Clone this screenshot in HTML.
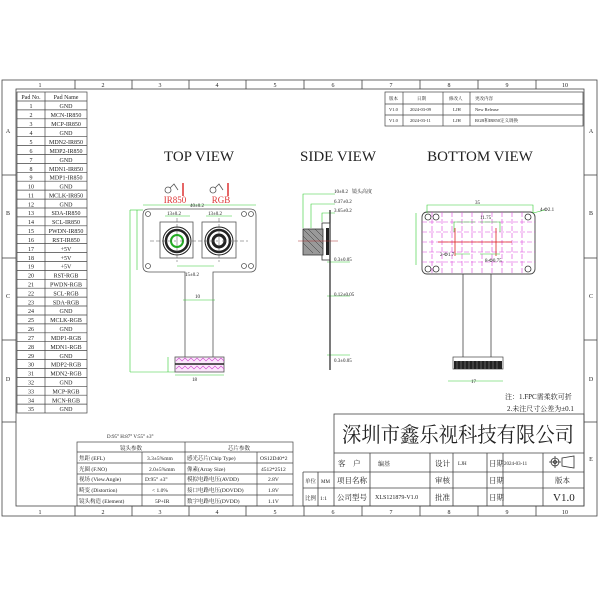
<!DOCTYPE html>
<html><head><meta charset="utf-8"><style>
html,body{margin:0;padding:0;background:#fff;}
svg{display:block;}
text{font-family:"Liberation Serif","Noto Serif CJK SC","Noto Sans CJK SC",serif;fill:#222;}
.s{font-size:6px;}
.g{fill:#3c3;font-size:5px;}
</style></head><body>
<svg width="600" height="600" viewBox="0 0 600 600" xmlns="http://www.w3.org/2000/svg">
<g fill="none" stroke="#444" stroke-width="0.8">
<rect x="2" y="80" width="595" height="436"/>
<rect x="16" y="89" width="568" height="417"/>
<line x1="75" y1="80" x2="75" y2="89"/><line x1="132" y1="80" x2="132" y2="89"/><line x1="189" y1="80" x2="189" y2="89"/><line x1="246" y1="80" x2="246" y2="89"/><line x1="304" y1="80" x2="304" y2="89"/><line x1="362" y1="80" x2="362" y2="89"/><line x1="420" y1="80" x2="420" y2="89"/><line x1="478" y1="80" x2="478" y2="89"/><line x1="536" y1="80" x2="536" y2="89"/>
<line x1="75" y1="506" x2="75" y2="516"/><line x1="132" y1="506" x2="132" y2="516"/><line x1="189" y1="506" x2="189" y2="516"/><line x1="246" y1="506" x2="246" y2="516"/><line x1="304" y1="506" x2="304" y2="516"/><line x1="362" y1="506" x2="362" y2="516"/><line x1="420" y1="506" x2="420" y2="516"/><line x1="478" y1="506" x2="478" y2="516"/><line x1="536" y1="506" x2="536" y2="516"/>
<line x1="2" y1="175" x2="16" y2="175"/><line x1="2" y1="258" x2="16" y2="258"/><line x1="2" y1="340" x2="16" y2="340"/><line x1="2" y1="422" x2="16" y2="422"/>
<line x1="584" y1="175" x2="597" y2="175"/><line x1="584" y1="258" x2="597" y2="258"/><line x1="584" y1="340" x2="597" y2="340"/><line x1="584" y1="422" x2="597" y2="422"/>
</g>
<g font-size="6" text-anchor="middle">
<text x="40" y="87">1</text><text x="103" y="87">2</text><text x="160" y="87">3</text><text x="217" y="87">4</text><text x="275" y="87">5</text><text x="333" y="87">6</text><text x="391" y="87">7</text><text x="449" y="87">8</text><text x="507" y="87">9</text><text x="565" y="87">10</text>
<text x="40" y="514">1</text><text x="103" y="514">2</text><text x="160" y="514">3</text><text x="217" y="514">4</text><text x="275" y="514">5</text><text x="333" y="514">6</text><text x="391" y="514">7</text><text x="449" y="514">8</text><text x="507" y="514">9</text><text x="565" y="514">10</text>
<text x="8" y="133">A</text><text x="8" y="215">B</text><text x="8" y="298">C</text><text x="8" y="381">D</text>
<text x="591" y="133">A</text><text x="591" y="215">B</text><text x="591" y="298">C</text><text x="591" y="381">D</text><text x="591" y="461">E</text>
</g>
<!-- pad table -->
<g fill="none" stroke="#444" stroke-width="0.7">
<rect x="17" y="92" width="70" height="321"/><line x1="45" y1="92" x2="45" y2="413"/>
<line x1="17" y1="101" x2="87" y2="101"/>
<path d="M17 109.9H87M17 118.8H87M17 127.7H87M17 136.7H87M17 145.6H87M17 154.5H87M17 163.4H87M17 172.3H87M17 181.2H87M17 190.1H87M17 199.1H87M17 208H87M17 216.9H87M17 225.8H87M17 234.7H87M17 243.6H87M17 252.5H87M17 261.5H87M17 270.4H87M17 279.3H87M17 288.2H87M17 297.1H87M17 306H87M17 315H87M17 323.9H87M17 332.8H87M17 341.7H87M17 350.6H87M17 359.5H87M17 368.4H87M17 377.4H87M17 386.3H87M17 395.2H87M17 404.1H87"/>
</g>
<g class="s" text-anchor="middle">
<text x="31" y="99">Pad No.</text><text x="66" y="99">Pad Name</text>
<text x="31" y="108">1</text><text x="66" y="108">GND</text>
<text x="31" y="117">2</text><text x="66" y="117">MCN-IR850</text>
<text x="31" y="126">3</text><text x="66" y="126">MCP-IR850</text>
<text x="31" y="135">4</text><text x="66" y="135">GND</text>
<text x="31" y="144">5</text><text x="66" y="144">MDN2-IR850</text>
<text x="31" y="153">6</text><text x="66" y="153">MDP2-IR850</text>
<text x="31" y="162">7</text><text x="66" y="162">GND</text>
<text x="31" y="171">8</text><text x="66" y="171">MDN1-IR850</text>
<text x="31" y="179.5">9</text><text x="66" y="179.5">MDP1-IR850</text>
<text x="31" y="188.5">10</text><text x="66" y="188.5">GND</text>
<text x="31" y="197.5">11</text><text x="66" y="197.5">MCLK-IR850</text>
<text x="31" y="206.5">12</text><text x="66" y="206.5">GND</text>
<text x="31" y="215">13</text><text x="66" y="215">SDA-IR850</text>
<text x="31" y="224">14</text><text x="66" y="224">SCL-IR850</text>
<text x="31" y="233">15</text><text x="66" y="233">PWDN-IR850</text>
<text x="31" y="242">16</text><text x="66" y="242">RST-IR850</text>
<text x="31" y="251">17</text><text x="66" y="251">+5V</text>
<text x="31" y="260">18</text><text x="66" y="260">+5V</text>
<text x="31" y="268.5">19</text><text x="66" y="268.5">+5V</text>
<text x="31" y="277.5">20</text><text x="66" y="277.5">RST-RGB</text>
<text x="31" y="286.5">21</text><text x="66" y="286.5">PWDN-RGB</text>
<text x="31" y="295.5">22</text><text x="66" y="295.5">SCL-RGB</text>
<text x="31" y="304.5">23</text><text x="66" y="304.5">SDA-RGB</text>
<text x="31" y="313">24</text><text x="66" y="313">GND</text>
<text x="31" y="322">25</text><text x="66" y="322">MCLK-RGB</text>
<text x="31" y="331">26</text><text x="66" y="331">GND</text>
<text x="31" y="340">27</text><text x="66" y="340">MDP1-RGB</text>
<text x="31" y="349">28</text><text x="66" y="349">MDN1-RGB</text>
<text x="31" y="358">29</text><text x="66" y="358">GND</text>
<text x="31" y="366.5">30</text><text x="66" y="366.5">MDP2-RGB</text>
<text x="31" y="375.5">31</text><text x="66" y="375.5">MDN2-RGB</text>
<text x="31" y="384.5">32</text><text x="66" y="384.5">GND</text>
<text x="31" y="393.5">33</text><text x="66" y="393.5">MCP-RGB</text>
<text x="31" y="402.5">34</text><text x="66" y="402.5">MCN-RGB</text>
<text x="31" y="411">35</text><text x="66" y="411">GND</text>
</g>
<!-- revision table -->
<g fill="none" stroke="#444" stroke-width="0.7">
<rect x="385" y="92" width="198" height="34"/><line x1="385" y1="104" x2="583" y2="104"/><line x1="385" y1="115" x2="583" y2="115"/>
<line x1="403" y1="92" x2="403" y2="126"/><line x1="443" y1="92" x2="443" y2="126"/><line x1="470" y1="92" x2="470" y2="126"/>
</g>
<g font-size="4.5">
<text x="389" y="100">版本</text><text x="417" y="100">日期</text><text x="449" y="100">修改人</text><text x="475" y="100">更改内容</text>
<text x="389" y="111">V1.0</text><text x="410" y="111">2024-03-09</text><text x="453" y="111">LJH</text><text x="475" y="111">New Release</text>
<text x="389" y="122">V1.0</text><text x="410" y="122">2024-03-11</text><text x="453" y="122">LJH</text><text x="475" y="122">RGB和IR850定义调换</text>
</g>
<!-- titles -->
<g font-size="15" text-anchor="middle">
<text x="199" y="161">TOP VIEW</text><text x="338" y="161">SIDE VIEW</text><text x="480" y="161">BOTTOM VIEW</text>
</g>
<!-- top view -->
<text x="175" y="203" font-size="9" style="fill:#d33" text-anchor="middle">IR850</text>
<text x="221" y="203" font-size="9" style="fill:#d33" text-anchor="middle">RGB</text>
<g fill="none" stroke="#555" stroke-width="0.8"><circle cx="168" cy="190" r="3"/><circle cx="213" cy="190" r="3"/><path d="M170 188l4-4 4 6M215 188l4-4 4 6"/></g>
<line x1="183" y1="183" x2="183" y2="196" stroke="#d33" stroke-width="1.5"/><line x1="228" y1="183" x2="228" y2="196" stroke="#d33" stroke-width="1.5"/>
<g fill="none" stroke="#555" stroke-width="0.8">
<path d="M149 209H250Q256 209 256 215V266Q256 272 250 272H213V358H185V272H149Q143 272 143 266V215Q143 209 149 209Z"/>
<circle cx="148" cy="214" r="2.5"/><circle cx="251" cy="214" r="2.5"/><circle cx="148" cy="266" r="2.5"/><circle cx="251" cy="266" r="2.5"/><circle cx="244" cy="214" r="2.5"/><circle cx="244" cy="266" r="2.5"/>
<rect x="160" y="222" width="33" height="36"/><rect x="202" y="222" width="34" height="36"/>
</g>
<g fill="none" stroke="#222"><circle cx="177" cy="241" r="14" stroke-width="1"/><circle cx="177" cy="241" r="11" stroke-width="2.5"/><circle cx="177" cy="241" r="6" stroke="#2a2" stroke-width="2"/>
<circle cx="219" cy="241" r="14" stroke-width="1"/><circle cx="219" cy="241" r="11" stroke-width="2.5"/><circle cx="219" cy="241" r="6" stroke-width="3"/></g>
<g stroke="#3c3" stroke-width="0.6" fill="none">
<path d="M143 205H256M130 210V372M137 210V270M165 216H190M206 216H232M177 266H214M175 375H224M168 357V372"/>
<line x1="130" y1="210" x2="143" y2="210"/><line x1="130" y1="372" x2="175" y2="372"/>
<line x1="183" y1="300" x2="215" y2="300"/>
</g>
<g stroke="#555" stroke-width="0.5" stroke-dasharray="4 2"><line x1="150" y1="241" x2="248" y2="241"/><line x1="177" y1="218" x2="177" y2="262"/><line x1="219" y1="218" x2="219" y2="262"/></g>
<rect x="175" y="357" width="49" height="15" fill="#fbe6fb" stroke="#555" stroke-width="0.8"/>
<line x1="175" y1="364" x2="224" y2="364" stroke="#222" stroke-width="1.5"/>
<path d="M176 361l3-3 3 3 3-3 3 3 3-3 3 3 3-3 3 3 3-3 3 3 3-3 3 3 3-3 3 3 3-3 3 3M176 369l3-3 3 3 3-3 3 3 3-3 3 3 3-3 3 3 3-3 3 3 3-3 3 3 3-3 3 3 3-3 3 3" fill="none" stroke="#c4c" stroke-width="0.6"/>
<g class="g"><text x="167" y="215">13±0.2</text><text x="208" y="215">13±0.2</text><text x="185" y="276">15±0.2</text><text x="195" y="298">10</text><text x="192" y="381">18</text><text x="190" y="207">40±0.2</text></g>
<!-- side view -->
<g stroke="#3c3" stroke-width="0.6" fill="none"><path d="M303 228V194H335M311 228V204H335M322 222V213H335M327 262H350M327 296H350M327 355H350"/></g>
<g class="g"><text x="334" y="193">10±0.2</text><text x="352" y="193">镜头高度</text><text x="334" y="203">6.37±0.2</text><text x="334" y="212">3.65±0.2</text><text x="334" y="261">0.3±0.05</text><text x="334" y="296">0.12±0.05</text><text x="334" y="362">0.3±0.05</text></g>
<line x1="330" y1="210" x2="330" y2="370" stroke="#222" stroke-width="1.2"/>
<rect x="322" y="223" width="8" height="37" fill="none" stroke="#333" stroke-width="0.8"/>
<rect x="326" y="228" width="3" height="27" fill="#222"/>
<rect x="303" y="229" width="20" height="26" fill="#999" stroke="#333" stroke-width="0.8"/>
<path d="M303 229l20 20M303 236l17 17M303 243l10 10M308 229l15 15M315 229l8 8" stroke="#333" stroke-width="0.5"/>
<line x1="298" y1="241" x2="338" y2="241" stroke="#a33" stroke-width="0.5"/>
<!-- bottom view -->
<rect x="422" y="212" width="113" height="62" rx="5" fill="none" stroke="#444" stroke-width="0.9"/>
<g stroke="#d4d" stroke-width="0.6" stroke-dasharray="5 2"><path d="M432 212V274M442 212V274M452 212V274M462 212V274M472 212V274M482 212V274M492 212V274M502 212V274M512 212V274M522 212V274M422 222H535M422 232H535M422 242H535M422 252H535M422 262H535"/></g>
<g fill="none" stroke="#333" stroke-width="0.8"><circle cx="428" cy="217" r="3"/><circle cx="436" cy="217" r="3"/><circle cx="528" cy="217" r="3"/><circle cx="428" cy="269" r="3"/><circle cx="436" cy="269" r="3"/><circle cx="528" cy="269" r="3"/></g>
<path d="M438 242H512M455 228V256M496 228V256" stroke="#d22" stroke-width="0.8"/>
<g stroke="#3c3" stroke-width="0.6" fill="none"><path d="M427 213V205H533V213M454 232V222H475M480 222H500V232M455 254H470M480 254H500M533 213L545 210M416 213V265M448 381H503"/></g>
<g class="g"><text x="475" y="204">35</text><text x="540" y="211">4-Φ2.1</text><text x="480" y="219">11.75</text><text x="440" y="256">2-Φ1.7</text><text x="485" y="262">8-Φ0.75</text><text x="471" y="383">17</text></g>
<path d="M463 274V357M491 274V357" stroke="#444" stroke-width="0.8"/>
<rect x="453" y="357" width="50" height="12" fill="#fff" stroke="#444" stroke-width="0.7"/>
<rect x="454" y="361" width="48" height="8" fill="#222"/>
<path d="M457 361V369M461 361V369M465 361V369M469 361V369M473 361V369M477 361V369M481 361V369M485 361V369M489 361V369M493 361V369M497 361V369" stroke="#777" stroke-width="0.7"/>
<text x="505" y="399" font-size="7">注：1.FPC需柔软可折</text>
<text x="507" y="411" font-size="7">2.未注尺寸公差为±0.1</text>
<!-- lens table -->
<text x="107" y="438" font-size="5">D:95° H:87° V:55° ±3°</text>
<g fill="none" stroke="#444" stroke-width="0.7">
<rect x="77" y="442" width="216" height="64"/>
<path d="M77 452H293M77 463H293M77 474H293M77 484H293M77 495H293M142 452V506M185 442V506M257 452V506"/>
</g>
<g font-size="5.5">
<text x="120" y="450">镜头参数</text><text x="228" y="450">芯片参数</text>
<text x="79" y="460">焦距 (EFL)</text><text x="147" y="460">3.3±5%mm</text><text x="187" y="460">感光芯片(Chip Type)</text><text x="260" y="460">OS12D40*2</text>
<text x="79" y="471">光圈 (F.NO)</text><text x="149" y="471">2.0±5%mm</text><text x="187" y="471">像素(Array Size)</text><text x="261" y="471">4512*2512</text>
<text x="79" y="481">视场 (View.Angle)</text><text x="145" y="481">D:95° ±3°</text><text x="187" y="481">模拟电路电压(AVDD)</text><text x="268" y="481">2.8V</text>
<text x="79" y="492">畸变 (Distortion)</text><text x="152" y="492">&lt; 1.0%</text><text x="187" y="492">接口电路电压(DOVDD)</text><text x="268" y="492">1.8V</text>
<text x="79" y="503">镜头构造 (Element)</text><text x="155" y="503">5P+IR</text><text x="187" y="503">数字电路电压(DVDD)</text><text x="268" y="503">1.1V</text>
</g>
<!-- title block -->
<g fill="none" stroke="#444" stroke-width="0.8">
<rect x="334" y="414" width="250" height="92"/>
<path d="M334 453H584M303 472H584M303 488H584M303 472V506H334M318 472V506M370 453V506M430 453V506M453 453V506M487 453V506M503 453V506M543 453V506"/>
</g>
<text x="342" y="442" font-size="21" textLength="232" lengthAdjust="spacingAndGlyphs">深圳市鑫乐视科技有限公司</text>
<g font-size="7.5">
<text x="338" y="466">客　户</text><text x="378" y="466" font-size="6">编基</text><text x="435" y="466">设计</text><text x="458" y="465" font-size="5">LJH</text><text x="489" y="466">日期</text><text x="504" y="465" font-size="5">2024-03-11</text>
<text x="305" y="483" font-size="5.5">单位</text><text x="321" y="483" font-size="5">MM</text><text x="337" y="483">项目名称</text><text x="435" y="483">审核</text><text x="489" y="483">日期</text><text x="555" y="483">版本</text>
<text x="305" y="500" font-size="5.5">比例</text><text x="320" y="500" font-size="5.5">1:1</text><text x="337" y="500">公司型号</text><text x="375" y="499" font-size="6">XLS121879-V1.0</text><text x="435" y="500">批准</text><text x="489" y="500">日期</text><text x="553" y="501" font-size="11">V1.0</text>
</g>
<g fill="none" stroke="#333" stroke-width="0.8"><circle cx="555" cy="462" r="4"/><circle cx="555" cy="462" r="1.5"/><path d="M549 462H561M555 456V468M562 458L574 456V468L562 466Z"/></g>
</svg>
</body></html>
